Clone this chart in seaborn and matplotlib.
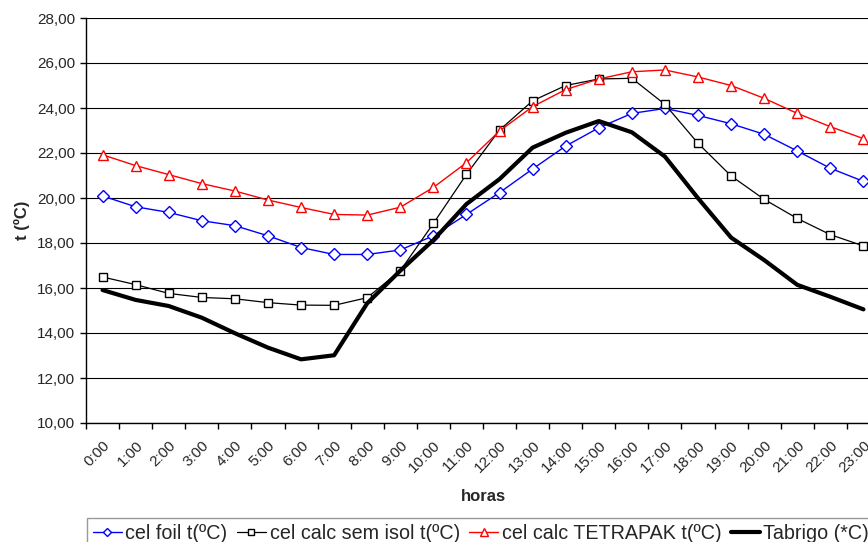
import numpy as np
import pandas as pd
import matplotlib
matplotlib.use("Agg")
import matplotlib.pyplot as plt
import matplotlib.transforms as mtransforms
import seaborn as sns
from matplotlib.ticker import FixedLocator, FuncFormatter

horas = [f"{h}:00" for h in range(24)]

cel_foil = [20.09, 19.61, 19.36, 18.99, 18.77, 18.32, 17.80, 17.49, 17.49, 17.69,
            18.32, 19.27, 20.24, 21.29, 22.31, 23.12, 23.76, 23.98, 23.67, 23.30,
            22.83, 22.09, 21.32, 20.74]
cel_sem_isol = [16.49, 16.15, 15.76, 15.58, 15.52, 15.35, 15.24, 15.23, 15.57, 16.77,
                18.87, 21.05, 23.02, 24.32, 25.00, 25.29, 25.32, 24.16, 22.43, 20.98,
                19.94, 19.09, 18.37, 17.87]
cel_tetrapak = [21.92, 21.44, 21.04, 20.64, 20.31, 19.91, 19.58, 19.27, 19.24, 19.59,
                20.47, 21.57, 22.98, 24.06, 24.82, 25.29, 25.61, 25.69, 25.38, 25.00,
                24.43, 23.76, 23.17, 22.64]
tabrigo = [15.91, 15.47, 15.20, 14.68, 13.99, 13.35, 12.83, 13.01, 15.32, 16.77,
           18.13, 19.73, 20.84, 22.24, 22.90, 23.42, 22.92, 21.84, 19.99, 18.24,
           17.24, 16.14, 15.61, 15.05]

labels = ["cel foil t(ºC)", "cel calc sem isol t(ºC)", "cel calc TETRAPAK t(ºC)", "Tabrigo (*C)"]

sns.set_theme(style="white")
plt.rcParams['font.family'] = ['Liberation Sans', 'DejaVu Sans']

fig = plt.figure(figsize=(8.68, 5.42), dpi=100)
ax = fig.add_axes([86/868, 1-423/542, 794/868, 405/542])

x = np.arange(len(horas))
df = pd.DataFrame({"x": x, "foil": cel_foil, "sem": cel_sem_isol,
                   "tetra": cel_tetrapak, "tabrigo": tabrigo})

sns.lineplot(data=df, x="x", y="foil", ax=ax, color="#0000ff", lw=1.0,
             marker="D", markersize=6, markerfacecolor="white",
             markeredgecolor="#0000ff", markeredgewidth=1.0, label=labels[0])
sns.lineplot(data=df, x="x", y="sem", ax=ax, color="black", lw=0.9,
             marker="s", markersize=5.5, markerfacecolor="white",
             markeredgecolor="black", markeredgewidth=1.0, label=labels[1])
sns.lineplot(data=df, x="x", y="tetra", ax=ax, color="#ff0000", lw=1.0,
             marker="^", markersize=7.5, markerfacecolor="white",
             markeredgecolor="#ff0000", markeredgewidth=1.0, label=labels[2])
sns.lineplot(data=df, x="x", y="tabrigo", ax=ax, color="black", lw=3.0,
             label=labels[3])

ax.set_xlim(-0.5, len(horas) - 0.5)
ax.set_ylim(10, 28)
ax.set_yticks(np.arange(10, 29, 2))
ax.yaxis.set_major_formatter(FuncFormatter(lambda v, p: f"{v:.2f}".replace(".", ",")))
ax.grid(axis="y", color="black", lw=0.8)
ax.grid(axis="x", visible=False)
ax.set_axisbelow(True)

ax.set_xticks(x)
ax.set_xticklabels(horas, rotation=45, ha="right", rotation_mode="anchor", fontsize=11)
offset = mtransforms.ScaledTranslation(-9/100, 0, fig.dpi_scale_trans)
for lbl in ax.get_xticklabels():
    lbl.set_transform(lbl.get_transform() + offset)
ax.xaxis.set_minor_locator(FixedLocator(np.arange(-0.5, len(horas) + 0.5, 1)))
ax.tick_params(axis="x", which="major", length=0, pad=11)
ax.tick_params(axis="x", which="minor", length=4, width=1, color="black", direction="out", bottom=True)
ax.tick_params(axis="y", length=4, width=1, color="black", direction="out", left=True, labelsize=11, pad=4)

for s in ["top", "right"]:
    ax.spines[s].set_visible(False)
for s in ["left", "bottom"]:
    ax.spines[s].set_color("black")
    ax.spines[s].set_linewidth(1.0)

ax.set_xlabel("horas", fontsize=12, fontweight="bold", labelpad=10)
ax.set_ylabel("t (ºC)", fontsize=12, fontweight="bold", labelpad=5)

ax.get_legend().remove()
h, l = ax.get_legend_handles_labels()
leg = fig.legend(h, l, loc="upper left", bbox_to_anchor=(87/868, 1-518/542),
                 ncol=4, fontsize=14.2, frameon=True, fancybox=False,
                 handlelength=1.45, handletextpad=0.2, columnspacing=0.48,
                 borderpad=0.3, borderaxespad=0, markerscale=0.7)
leg.get_frame().set_edgecolor("#808080")
leg.get_frame().set_linewidth(1.0)

fig.savefig("out.png", dpi=100)
